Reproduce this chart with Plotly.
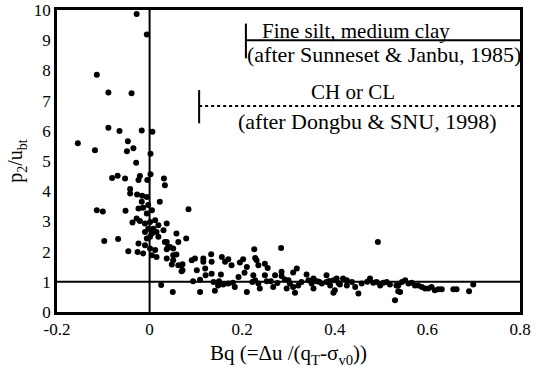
import plotly.graph_objects as go

# Bq values (x) and p2/ubt values (y)
bq = [
    -0.028, -0.006, -0.114, -0.089, -0.039,
    -0.089, -0.065, -0.017, 0.006,
    -0.155, -0.118, -0.047, -0.049, -0.035, 0.002,
    -0.029, -0.081, -0.069, -0.053, -0.021, -0.024,
    -0.005, 0.002, 0.031, 0.033,
    -0.042, -0.042, -0.027, -0.016, -0.006,
    0.022, -0.114, -0.101, -0.052,
    -0.024, -0.014, -0.003, 0.005, -0.006,
    -0.028, -0.021, -0.037, -0.010, 0.001, 0.012,
    0.019, 0.008, -0.003, -0.010, 0.005, 0.015, 0.030,
    0.001, -0.006, 0.019, 0.033, -0.010, 0.001, 0.012,
    -0.024, -0.026, -0.014, 0.005, 0.015, 0.037, 0.037,
    -0.046, -0.098, -0.068, 0.025, -0.017,
    0.084, 0.037, 0.058, 0.079, 0.062, 0.051, 0.040,
    0.051, 0.069, 0.071, 0.050,
    0.037, 0.044, 0.051, 0.058, 0.048, 0.062, 0.071, 0.069,
    0.091, 0.098, 0.116, 0.116, 0.133, 0.134, 0.156, 0.163, 0.170, 0.177,
    0.102, 0.120, 0.121, 0.134, 0.154, 0.094, 0.109, 0.138, 0.148, 0.159,
    0.170, 0.141, 0.109, 0.184, 0.192, 0.195, 0.202, 0.210, 0.210, 0.226,
    0.228, 0.231, 0.235, 0.249, 0.255, 0.224, 0.228, 0.222, 0.235, 0.249,
    0.253, 0.238, 0.267, 0.271, 0.284, 0.285, 0.285,
    0.493, 0.310, 0.318, 0.300, 0.303, 0.296, 0.310, 0.314, 0.321, 0.328,
    0.339, 0.343,
    0.350, 0.354, 0.354, 0.361, 0.372, 0.382, 0.382, 0.390, 0.397, 0.404,
    0.400, 0.397, 0.411, 0.418, 0.426, 0.426, 0.437, 0.444, 0.451, 0.458,
    0.476, 0.483, 0.490, 0.498, 0.505, 0.512, 0.519, 0.530, 0.533, 0.537,
    0.537, 0.541, 0.545, 0.552, 0.559, 0.566, 0.573, 0.580, 0.588, 0.595,
    0.602, 0.609, 0.616, 0.624, 0.631, 0.656, 0.663, 0.690, 0.699,
    0.150, 0.180, 0.205, 0.262, 0.276, 0.292, 0.366, 0.388, 0.408, 0.470,
]
p2_ubt = [
    9.87, 9.19, 7.86, 7.27, 7.24,
    6.10, 5.99, 6.01, 5.97,
    5.59, 5.36, 5.65, 5.32, 5.42, 5.24,
    4.94, 4.44, 4.51, 4.42, 4.50, 4.37,
    4.37, 4.56, 4.42, 4.20,
    4.07, 3.92, 3.89, 3.85, 3.81,
    3.65, 3.37, 3.33, 3.35,
    3.43, 3.45, 3.54, 3.37, 3.26,
    3.10, 3.01, 2.96, 2.93, 2.98, 3.04,
    2.87, 2.76, 2.76, 2.65, 2.60, 2.65, 2.71,
    2.49, 2.43, 2.49, 2.32, 2.21, 2.10, 2.05,
    2.27, 1.99, 1.94, 1.88, 1.82, 2.08, 1.77,
    2.01, 2.35, 2.42, 0.89, 3.65,
    3.40, 2.93, 2.60, 2.43, 2.32, 2.10, 2.15,
    1.71, 1.55, 1.38, 0.66,
    2.32, 2.15, 1.88, 1.90, 1.57, 1.55, 1.58, 1.35,
    1.71, 1.77, 1.77, 1.66, 1.91, 1.66, 1.82, 1.66, 1.75, 1.55,
    1.38, 1.44, 1.22, 1.27, 1.24, 1.02, 1.07, 0.99, 0.88, 0.91,
    0.94, 0.70, 0.66, 0.83, 1.16, 1.64, 1.75, 1.49, 0.66, 2.08,
    1.79, 1.71, 1.55, 1.60, 1.46, 1.22, 1.05, 0.99, 0.94, 1.22,
    1.02, 0.78, 0.83, 1.22, 2.12, 1.33, 1.19,
    2.32, 1.31, 1.44, 1.05, 0.94, 0.78, 0.83, 0.64, 0.88, 0.99,
    1.24, 1.05,
    0.94, 0.78, 1.11, 1.02, 0.94, 1.22, 0.99, 0.88, 1.05, 1.11,
    0.72, 0.64, 0.91, 1.11, 1.05, 0.88, 0.99, 0.83, 0.61, 0.94,
    1.11, 0.97, 0.99, 0.88, 0.97, 0.99, 0.91, 0.39, 0.88, 0.69,
    0.88, 0.66, 0.99, 1.05, 0.94, 0.97, 0.88, 0.88, 0.83, 0.78,
    0.78, 0.83, 0.72, 0.75, 0.75, 0.75, 0.75, 0.69, 0.91,
    1.02, 0.97, 1.30, 1.02, 0.96, 1.08, 1.00, 1.03, 0.96, 1.00,
]

x_ticks = [-0.2, 0, 0.2, 0.4, 0.6, 0.8]
x_tick_labels = ["-0.2", "0", "0.2", "0.4", "0.6", "0.8"]
y_ticks = list(range(0, 11))

FONT = "Liberation Serif, Times New Roman, serif"

fig = go.Figure()
fig.add_trace(go.Scatter(
    x=bq, y=p2_ubt, mode="markers",
    marker=dict(color="black", size=6, line=dict(width=0)),
    showlegend=False, cliponaxis=True,
))

# reference lines
fig.add_shape(type="line", x0=0, x1=0, y0=0, y1=10, xref="x", yref="y",
              line=dict(color="black", width=2))
fig.add_shape(type="line", x0=-0.2, x1=0.8, y0=1, y1=1, xref="x", yref="y",
              line=dict(color="black", width=2))

# Sunneset & Janbu bracket
fig.add_shape(type="line", x0=0.208, x1=0.208, y0=8.4, y1=9.55, xref="x", yref="y",
              line=dict(color="black", width=2))
fig.add_shape(type="line", x0=0.208, x1=0.8, y0=9.0, y1=9.0, xref="x", yref="y",
              line=dict(color="black", width=2))
# Dongbu & SNU bracket
fig.add_shape(type="line", x0=0.107, x1=0.107, y0=6.25, y1=7.35, xref="x", yref="y",
              line=dict(color="black", width=2))
fig.add_shape(type="line", x0=0.107, x1=0.8, y0=6.82, y1=6.82, xref="x", yref="y",
              line=dict(color="black", width=2, dash="dot"))

ann_font = dict(family=FONT, size=21, color="black")
ann_font2 = dict(family=FONT, size=22, color="black")
fig.add_annotation(x=0.445, y=9.3, text="Fine silt, medium clay", showarrow=False, font=ann_font)
fig.add_annotation(x=0.507, y=8.52, text="(after Sunneset &amp; Janbu, 1985)", showarrow=False, font=ann_font2)
fig.add_annotation(x=0.44, y=7.3, text="CH or CL", showarrow=False, font=ann_font)
fig.add_annotation(x=0.469, y=6.32, text="(after Dongbu &amp; SNU, 1998)", showarrow=False, font=ann_font2)

fig.update_layout(
    width=539, height=376,
    margin=dict(l=57, r=19, t=10, b=64, autoexpand=False),
    paper_bgcolor="white", plot_bgcolor="white",
    font=dict(family=FONT, size=17, color="black"),
)
fig.update_xaxes(
    range=[-0.2, 0.8], tickvals=x_ticks, ticktext=x_tick_labels, automargin=False,
    showgrid=False, zeroline=False, showline=True, linecolor="black", linewidth=2.5,
    mirror=True, ticks="", tickfont=dict(size=17),
    title=dict(text="Bq (=Δu /(q<sub>T</sub>-σ<sub>v0</sub>))", font=dict(size=21), standoff=8),
)
fig.update_yaxes(
    range=[0, 10], tickvals=y_ticks, automargin=False,
    showgrid=False, zeroline=False, showline=True, linecolor="black", linewidth=2.5,
    mirror=True, ticks="", tickfont=dict(size=17),
    title=dict(text="p<sub>2</sub>/u<sub>bt</sub>", font=dict(size=20), standoff=6),
)

fig.write_html("out.html")
